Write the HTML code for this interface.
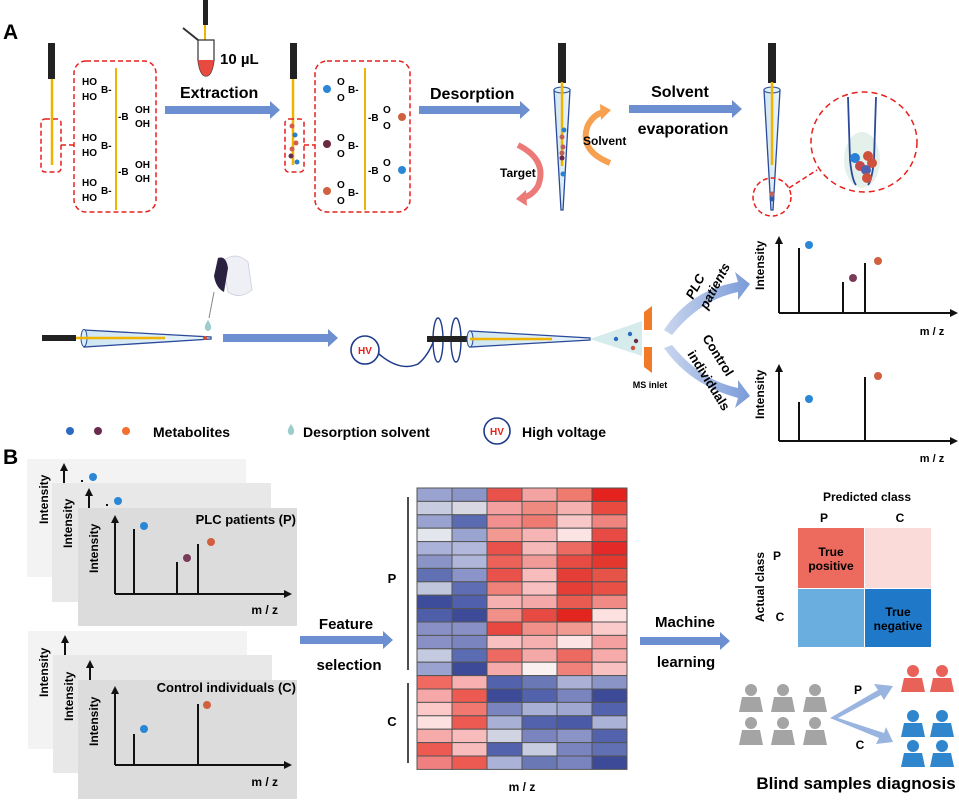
<!DOCTYPE html>
<html><head><meta charset="utf-8"><style>
html,body{margin:0;padding:0;background:#fff}
svg{display:block}
text{font-family:"Liberation Sans",Arial,sans-serif}
.b{font-weight:bold}
</style></head><body>
<svg width="959" height="800" viewBox="0 0 959 800" xmlns="http://www.w3.org/2000/svg">
<defs>
<radialGradient id="glow"><stop offset="0" stop-color="#dff0f5"/><stop offset="1" stop-color="#fff" stop-opacity="0"/></radialGradient>
<linearGradient id="tube" x1="0" x2="1"><stop offset="0" stop-color="#cfe6f2"/><stop offset="1" stop-color="#eaf5fa"/></linearGradient>
<linearGradient id="cv" x1="0" x2="1"><stop offset="0" stop-color="#c9d6ee"/><stop offset="1" stop-color="#7b9bd8"/></linearGradient>
</defs>

<!-- ===== A ===== -->
<text x="3" y="39" class="b" font-size="21">A</text>
<!-- probe 1 -->
<rect x="48" y="43" width="7" height="36" fill="#222"/>
<line x1="52" y1="79" x2="52" y2="165" stroke="#f0b400" stroke-width="2.5"/>
<rect x="41" y="119" width="20" height="53" rx="4" fill="none" stroke="#e8201c" stroke-width="1.5" stroke-dasharray="5,3"/>
<line x1="61" y1="145" x2="74" y2="145" stroke="#e8201c" stroke-width="1.5" stroke-dasharray="5,3"/>
<rect x="74" y="61" width="82" height="151" rx="12" fill="none" stroke="#e8201c" stroke-width="1.5" stroke-dasharray="5,3"/>
<line x1="116" y1="68" x2="116" y2="210" stroke="#f0b400" stroke-width="2"/>
<g font-size="10" class="b">
<text x="82" y="85">HO</text><text x="101" y="93">B-</text><text x="82" y="100">HO</text>
<text x="82" y="141">HO</text><text x="101" y="149">B-</text><text x="82" y="156">HO</text>
<text x="82" y="186">HO</text><text x="101" y="194">B-</text><text x="82" y="201">HO</text>
<text x="118" y="120">-B</text><text x="135" y="113">OH</text><text x="135" y="127">OH</text>
<text x="118" y="175">-B</text><text x="135" y="168">OH</text><text x="135" y="182">OH</text>
</g>
<!-- tube -->
<rect x="203" y="0" width="5" height="25" fill="#222"/>
<line x1="205" y1="25" x2="205" y2="68" stroke="#f0b400" stroke-width="2"/>
<path d="M198 40 h16 v20 q-2 16 -8 16 q-6 0 -8 -16 z" fill="#fff" stroke="#333" stroke-width="1.2"/>
<path d="M198 60 h16 q-2 16 -8 16 q-6 0 -8 -16z" fill="#e84a40"/>
<line x1="183" y1="28" x2="198" y2="40" stroke="#333" stroke-width="2"/>
<text x="220" y="64" class="b" font-size="15">10 µL</text>
<text x="180" y="98" class="b" font-size="16">Extraction</text>
<polygon points="165,106 270,106 270,101 280,110 270,119 270,114 165,114" fill="#6b8fd0"/>
<!-- probe 2 -->
<rect x="290" y="43" width="7" height="36" fill="#222"/>
<line x1="293" y1="79" x2="293" y2="165" stroke="#f0b400" stroke-width="2.5"/>
<circle cx="292" cy="126" r="2.5" fill="#d0604a"/><circle cx="295" cy="135" r="2.5" fill="#2a7fcf"/><circle cx="296" cy="143" r="2.5" fill="#d0604a"/><circle cx="292" cy="149" r="2.5" fill="#d0604a"/><circle cx="291" cy="156" r="2.5" fill="#6a2a50"/><circle cx="297" cy="162" r="2.5" fill="#2a7fcf"/>
<rect x="285" y="119" width="19" height="53" rx="4" fill="none" stroke="#e8201c" stroke-width="1.5" stroke-dasharray="5,3"/>
<line x1="304" y1="145" x2="315" y2="145" stroke="#e8201c" stroke-width="1.5" stroke-dasharray="5,3"/>
<rect x="315" y="61" width="95" height="151" rx="12" fill="none" stroke="#e8201c" stroke-width="1.5" stroke-dasharray="5,3"/>
<line x1="365" y1="68" x2="365" y2="210" stroke="#f0b400" stroke-width="2"/>
<g font-size="10" class="b">
<text x="337" y="85">O</text><text x="348" y="93">B-</text><text x="337" y="101">O</text>
<text x="337" y="141">O</text><text x="348" y="149">B-</text><text x="337" y="157">O</text>
<text x="337" y="188">O</text><text x="348" y="196">B-</text><text x="337" y="204">O</text>
<text x="368" y="121">-B</text><text x="383" y="113">O</text><text x="383" y="129">O</text>
<text x="368" y="174">-B</text><text x="383" y="166">O</text><text x="383" y="182">O</text>
</g>
<circle cx="327" cy="89" r="4" fill="#2a86d6"/><circle cx="327" cy="144" r="4" fill="#6a2a44"/><circle cx="327" cy="191" r="4" fill="#d0603e"/>
<circle cx="402" cy="117" r="4" fill="#d0603e"/><circle cx="402" cy="170" r="4" fill="#2a86d6"/>
<text x="430" y="99" class="b" font-size="16">Desorption</text>
<polygon points="419,106 520,106 520,101 530,110 520,119 520,114 419,114" fill="#6b8fd0"/>
<!-- tip 1 -->
<rect x="558" y="43" width="8" height="40" fill="#222"/>
<path d="M554 90 L570 90 L563 210 L561 210 Z" fill="url(#tube)" stroke="#2a4a9a" stroke-width="1.3"/>
<ellipse cx="562" cy="90" rx="8" ry="3" fill="#d8eef8" stroke="#2a4a9a" stroke-width="1"/>
<line x1="562" y1="82" x2="562" y2="166" stroke="#f0b400" stroke-width="2.5"/>
<circle cx="564" cy="130" r="2.5" fill="#2a7fcf"/><circle cx="562" cy="137" r="2.5" fill="#c0605a"/><circle cx="563" cy="147" r="2.5" fill="#c0605a"/><circle cx="562" cy="153" r="2.5" fill="#c0605a"/><circle cx="562" cy="158" r="2.5" fill="#6a2a50"/><circle cx="563" cy="174" r="2.5" fill="#2a7fcf"/>
<path d="M610 163 Q578 150 588 125 Q594 114 604 112" fill="none" stroke="#f6a050" stroke-width="6"/>
<polygon points="600,104 611,110 601,120" fill="#f6a050"/>
<text x="583" y="145" class="b" font-size="12">Solvent</text>
<path d="M518 145 Q548 160 538 186 Q532 196 522 198" fill="none" stroke="#ec7a78" stroke-width="6"/>
<polygon points="526,190 516,199 527,206" fill="#ec7a78"/>
<text x="500" y="177" class="b" font-size="12">Target</text>
<text x="680" y="97" class="b" font-size="16" text-anchor="middle">Solvent</text>
<text x="683" y="134" class="b" font-size="16" text-anchor="middle">evaporation</text>
<polygon points="629,105 732,105 732,100 742,109 732,118 732,113 629,113" fill="#6b8fd0"/>
<!-- tip 2 -->
<rect x="768" y="43" width="8" height="40" fill="#222"/>
<path d="M764 90 L780 90 L773 210 L771 210 Z" fill="url(#tube)" stroke="#2a4a9a" stroke-width="1.3"/>
<ellipse cx="772" cy="90" rx="8" ry="3" fill="#d8eef8" stroke="#2a4a9a" stroke-width="1"/>
<line x1="772" y1="82" x2="772" y2="165" stroke="#f0b400" stroke-width="2.5"/>
<circle cx="772" cy="194" r="2.5" fill="#c0605a"/><circle cx="772" cy="199" r="2.5" fill="#2a5aaa"/>
<circle cx="772" cy="197" r="19" fill="none" stroke="#e8201c" stroke-width="1.5" stroke-dasharray="5,3"/>
<line x1="789" y1="188" x2="817" y2="170" stroke="#e8201c" stroke-width="1.5" stroke-dasharray="5,3"/>
<ellipse cx="864" cy="142" rx="53" ry="50" fill="#fff" stroke="#e8201c" stroke-width="1.5" stroke-dasharray="6,4"/>
<ellipse cx="862" cy="160" rx="18" ry="28" fill="#e4f1ea"/>
<path d="M848 97 L850 160 Q852 180 856 185 M876 97 L874 160 Q872 180 868 185" fill="none" stroke="#2a4a9a" stroke-width="1.8"/>
<circle cx="855" cy="158" r="5" fill="#2a80d6"/><circle cx="868" cy="156" r="5" fill="#d0503e"/><circle cx="872" cy="163" r="5" fill="#d0503e"/><circle cx="860" cy="166" r="5" fill="#c04a50"/><circle cx="866" cy="170" r="5" fill="#5060b0"/><circle cx="867" cy="178" r="5" fill="#d0503e"/>

<!-- middle row -->
<rect x="42" y="335" width="34" height="6" fill="#222"/>
<path d="M84 330 L211 337 L211 339 L84 347 Z" fill="url(#tube)" stroke="#2a4a9a" stroke-width="1.3"/>
<ellipse cx="84" cy="338" rx="3" ry="8.5" fill="#d8eef8" stroke="#2a4a9a" stroke-width="1"/>
<line x1="76" y1="338" x2="165" y2="338" stroke="#f0b400" stroke-width="2.5"/>
<circle cx="205" cy="338" r="2" fill="#d0503e"/>
<path d="M208 320 q-4 6 -3 8 a3 3 0 0 0 6 0 q1 -2 -3 -8z" fill="#9ccccc"/>
<path d="M222 262 Q235 250 248 262 L252 290 Q240 300 228 292 Z" fill="#eef0f6" stroke="#ccd" stroke-width="0.8"/>
<path d="M218 258 Q226 255 228 268 L224 292 Q216 288 214 276 Z" fill="#2a2040"/>
<line x1="214" y1="292" x2="209" y2="318" stroke="#888" stroke-width="1"/>
<polygon points="223,334 328,334 328,329 338,338 328,347 328,342 223,342" fill="#6b8fd0"/>
<circle cx="365" cy="350" r="14" fill="#fff" stroke="#1e3a8a" stroke-width="1.6"/>
<text x="365" y="354" font-size="10" class="b" fill="#e8201c" text-anchor="middle">HV</text>
<path d="M379 354 Q400 372 418 364 Q428 356 434 340" fill="none" stroke="#1e3a8a" stroke-width="1.5"/>
<ellipse cx="438" cy="340" rx="5" ry="22" fill="none" stroke="#1e3a8a" stroke-width="1.4"/>
<ellipse cx="456" cy="340" rx="5" ry="22" fill="none" stroke="#1e3a8a" stroke-width="1.4"/>
<rect x="427" y="336" width="43" height="6" fill="#222"/>
<path d="M470 331 L590 338 L590 340 L470 347 Z" fill="url(#tube)" stroke="#2a4a9a" stroke-width="1.3"/>
<ellipse cx="470" cy="339" rx="3" ry="8" fill="#d8eef8" stroke="#2a4a9a" stroke-width="1"/>
<line x1="470" y1="339" x2="552" y2="339" stroke="#f0b400" stroke-width="2.5"/>
<polygon points="590,339 642,321 642,356" fill="#d6ecec"/>
<circle cx="616" cy="339" r="2.2" fill="#2a6ac0"/><circle cx="630" cy="334" r="2.2" fill="#2a6ac0"/><circle cx="636" cy="341" r="2.2" fill="#6a2a50"/><circle cx="633" cy="348" r="2.2" fill="#d0503e"/>
<polygon points="644,312 652,306 652,330 644,330" fill="#f07a28"/>
<polygon points="644,347 652,347 652,373 644,367" fill="#f07a28"/>
<text x="650" y="388" font-size="9" class="b" text-anchor="middle">MS inlet</text>
<path d="M664 330 Q690 290 738 282 L735 272 L750 284 L738 300 L738 292 Q700 300 672 335 Z" fill="url(#cv)"/>
<path d="M664 348 Q690 385 738 398 L735 408 L750 396 L738 380 L738 388 Q700 380 672 345 Z" fill="url(#cv)"/>
<text transform="translate(693,300) rotate(-62)" font-size="13" class="b" font-style="italic">PLC</text>
<text transform="translate(707,310) rotate(-62)" font-size="13" class="b" font-style="italic">patients</text>
<text transform="translate(702,338) rotate(58)" font-size="13" class="b">Control</text>
<text transform="translate(687,354) rotate(58)" font-size="13" class="b">individuals</text>
<!-- graph1 -->
<g stroke="#111" stroke-width="2" fill="none">
<path d="M779 313 V242 M953 313 H779"/>
<path d="M799 313 V248 M843 313 V282 M865 313 V263"/>
<path d="M779 441 V370 M953 441 H779"/>
<path d="M799 441 V402 M865 441 V377"/>
</g>
<polygon points="775,244 779,236 783,244" fill="#111"/><polygon points="950,309 958,313 950,317" fill="#111"/>
<polygon points="775,372 779,364 783,372" fill="#111"/><polygon points="950,437 958,441 950,445" fill="#111"/>
<circle cx="809" cy="245" r="4" fill="#2a86d6"/><circle cx="853" cy="278" r="4" fill="#7a3a5a"/><circle cx="878" cy="261" r="4" fill="#d0603e"/>
<circle cx="809" cy="399" r="4" fill="#2a86d6"/><circle cx="878" cy="376" r="4" fill="#d0603e"/>
<text transform="translate(764,290) rotate(-90)" font-size="12" class="b">Intensity</text>
<text transform="translate(764,419) rotate(-90)" font-size="12" class="b">Intensity</text>
<text x="932" y="335" font-size="11" class="b" text-anchor="middle">m / z</text>
<text x="932" y="462" font-size="11" class="b" text-anchor="middle">m / z</text>
<!-- legend -->
<circle cx="70" cy="431" r="4" fill="#2a6ac0"/><circle cx="98" cy="431" r="4" fill="#6a2a50"/><circle cx="126" cy="431" r="4" fill="#f07030"/>
<text x="153" y="437" font-size="14" class="b">Metabolites</text>
<path d="M291 424 q-4 6 -3 8 a3 3 0 0 0 6 0 q1 -2 -3 -8z" fill="#9ccccc"/>
<text x="303" y="437" font-size="14" class="b">Desorption solvent</text>
<circle cx="497" cy="431" r="13" fill="#fff" stroke="#1e3a8a" stroke-width="1.6"/>
<text x="497" y="435" font-size="10" class="b" fill="#e8201c" text-anchor="middle">HV</text>
<text x="522" y="437" font-size="14" class="b">High voltage</text>

<!-- ===== B ===== -->
<text x="3" y="464" class="b" font-size="21">B</text>
<rect x="27" y="459" width="219" height="118" fill="#f3f3f3"/>
<rect x="52" y="483" width="219" height="119" fill="#e8e8e8"/>
<rect x="78" y="508" width="219" height="118" fill="#dcdcdc"/>
<rect x="28" y="631" width="219" height="118" fill="#f3f3f3"/>
<rect x="53" y="655" width="219" height="118" fill="#e8e8e8"/>
<rect x="78" y="680" width="219" height="119" fill="#dcdcdc"/>
<g font-size="12" class="b">
<text transform="translate(48,524) rotate(-90)">Intensity</text>
<text transform="translate(72,548) rotate(-90)">Intensity</text>
<text transform="translate(98,573) rotate(-90)">Intensity</text>
<text transform="translate(48,697) rotate(-90)">Intensity</text>
<text transform="translate(73,721) rotate(-90)">Intensity</text>
<text transform="translate(98,746) rotate(-90)">Intensity</text>
<text x="296" y="524" text-anchor="end" font-size="13">PLC patients (P)</text>
<text x="296" y="692" text-anchor="end" font-size="13">Control individuals (C)</text>
<text x="278" y="614" text-anchor="end">m / z</text>
<text x="278" y="786" text-anchor="end">m / z</text>
</g>
<g stroke="#111" stroke-width="2" fill="none">
<path d="M64 483 V469 M89 508 V494 M82 482 v-2 M107 506 v-2"/>
<path d="M65 655 V641 M90 680 V665"/>
<path d="M115 594 V521 M287 594 H115 M134 594 V529 M177 594 V562 M198 594 V544"/>
<path d="M115 765 V692 M287 765 H115 M134 765 V734 M198 765 V704"/>
</g>
<g fill="#111">
<polygon points="60,471 64,463 68,471"/><polygon points="85,496 89,488 93,496"/>
<polygon points="61,643 65,635 69,643"/><polygon points="86,668 90,660 94,668"/>
<polygon points="111,523 115,515 119,523"/><polygon points="284,590 292,594 284,598"/>
<polygon points="111,694 115,686 119,694"/><polygon points="284,761 292,765 284,769"/>
</g>
<circle cx="93" cy="477" r="4" fill="#2a86d6"/><circle cx="118" cy="501" r="4" fill="#2a86d6"/>
<circle cx="144" cy="526" r="4" fill="#2a86d6"/><circle cx="187" cy="558" r="4" fill="#7a3a5a"/><circle cx="211" cy="542" r="4" fill="#d0603e"/>
<circle cx="144" cy="729" r="4" fill="#2a86d6"/><circle cx="207" cy="705" r="4" fill="#d0603e"/>
<text x="346" y="629" font-size="15" class="b" text-anchor="middle">Feature</text>
<text x="349" y="670" font-size="15" class="b" text-anchor="middle">selection</text>
<polygon points="300,636 383,636 383,631 393,640 383,649 383,644 300,644" fill="#6b8fd0"/>
<line x1="408" y1="497" x2="408" y2="670" stroke="#111" stroke-width="1.5"/>
<line x1="408" y1="683" x2="408" y2="763" stroke="#111" stroke-width="1.5"/>
<text x="392" y="583" font-size="13" class="b" text-anchor="middle">P</text>
<text x="392" y="726" font-size="13" class="b" text-anchor="middle">C</text>
<!-- heatmap -->
<g stroke="#555" stroke-width="1">
<g transform="translate(0,488)"><rect x="417" width="35" height="13.4" fill="#9aa3d0"/><rect x="452" width="35" height="13.4" fill="#8b95c8"/><rect x="487" width="35" height="13.4" fill="#e8524a"/><rect x="522" width="35" height="13.4" fill="#f4a3a3"/><rect x="557" width="35" height="13.4" fill="#ef7a6e"/><rect x="592" width="35" height="13.4" fill="#e4231f"/></g>
<g transform="translate(0,501.4)"><rect x="417" width="35" height="13.4" fill="#c8cce0"/><rect x="452" width="35" height="13.4" fill="#d8d8e2"/><rect x="487" width="35" height="13.4" fill="#f4a0a0"/><rect x="522" width="35" height="13.4" fill="#ef8a80"/><rect x="557" width="35" height="13.4" fill="#f5b0b0"/><rect x="592" width="35" height="13.4" fill="#e84a40"/></g>
<g transform="translate(0,514.8)"><rect x="417" width="35" height="13.4" fill="#9aa2d0"/><rect x="452" width="35" height="13.4" fill="#5b6bb2"/><rect x="487" width="35" height="13.4" fill="#f29090"/><rect x="522" width="35" height="13.4" fill="#ef7a72"/><rect x="557" width="35" height="13.4" fill="#f8c8c8"/><rect x="592" width="35" height="13.4" fill="#ef857e"/></g>
<g transform="translate(0,528.2)"><rect x="417" width="35" height="13.4" fill="#e4e6ee"/><rect x="452" width="35" height="13.4" fill="#9aa4d0"/><rect x="487" width="35" height="13.4" fill="#f29a92"/><rect x="522" width="35" height="13.4" fill="#f6b4b4"/><rect x="557" width="35" height="13.4" fill="#fde4e4"/><rect x="592" width="35" height="13.4" fill="#e84a44"/></g>
<g transform="translate(0,541.6)"><rect x="417" width="35" height="13.4" fill="#aab2da"/><rect x="452" width="35" height="13.4" fill="#b2b8dc"/><rect x="487" width="35" height="13.4" fill="#e8524a"/><rect x="522" width="35" height="13.4" fill="#f6b8b8"/><rect x="557" width="35" height="13.4" fill="#ec6a62"/><rect x="592" width="35" height="13.4" fill="#e32a28"/></g>
<g transform="translate(0,555)"><rect x="417" width="35" height="13.4" fill="#8a94c6"/><rect x="452" width="35" height="13.4" fill="#b0b6da"/><rect x="487" width="35" height="13.4" fill="#ec6258"/><rect x="522" width="35" height="13.4" fill="#f29a98"/><rect x="557" width="35" height="13.4" fill="#e84a44"/><rect x="592" width="35" height="13.4" fill="#e4382e"/></g>
<g transform="translate(0,568.4)"><rect x="417" width="35" height="13.4" fill="#6070b2"/><rect x="452" width="35" height="13.4" fill="#8a94c8"/><rect x="487" width="35" height="13.4" fill="#e8524a"/><rect x="522" width="35" height="13.4" fill="#f8bcbc"/><rect x="557" width="35" height="13.4" fill="#e53e36"/><rect x="592" width="35" height="13.4" fill="#e65448"/></g>
<g transform="translate(0,581.8)"><rect x="417" width="35" height="13.4" fill="#c0c6dc"/><rect x="452" width="35" height="13.4" fill="#5f6eb4"/><rect x="487" width="35" height="13.4" fill="#ef807a"/><rect x="522" width="35" height="13.4" fill="#f8c0c0"/><rect x="557" width="35" height="13.4" fill="#e53e36"/><rect x="592" width="35" height="13.4" fill="#e85046"/></g>
<g transform="translate(0,595.2)"><rect x="417" width="35" height="13.4" fill="#3e4c9c"/><rect x="452" width="35" height="13.4" fill="#5060ac"/><rect x="487" width="35" height="13.4" fill="#f6b0b0"/><rect x="522" width="35" height="13.4" fill="#f4a8a8"/><rect x="557" width="35" height="13.4" fill="#e95a50"/><rect x="592" width="35" height="13.4" fill="#ef8a84"/></g>
<g transform="translate(0,608.6)"><rect x="417" width="35" height="13.4" fill="#4e5ea8"/><rect x="452" width="35" height="13.4" fill="#3c4a98"/><rect x="487" width="35" height="13.4" fill="#f09088"/><rect x="522" width="35" height="13.4" fill="#e64a42"/><rect x="557" width="35" height="13.4" fill="#e2251f"/><rect x="592" width="35" height="13.4" fill="#fde0e0"/></g>
<g transform="translate(0,622)"><rect x="417" width="35" height="13.4" fill="#8890c6"/><rect x="452" width="35" height="13.4" fill="#8890c6"/><rect x="487" width="35" height="13.4" fill="#e84840"/><rect x="522" width="35" height="13.4" fill="#f09088"/><rect x="557" width="35" height="13.4" fill="#f09a92"/><rect x="592" width="35" height="13.4" fill="#fbcaca"/></g>
<g transform="translate(0,635.4)"><rect x="417" width="35" height="13.4" fill="#8890c6"/><rect x="452" width="35" height="13.4" fill="#7a84be"/><rect x="487" width="35" height="13.4" fill="#f8c0c0"/><rect x="522" width="35" height="13.4" fill="#f6b0b0"/><rect x="557" width="35" height="13.4" fill="#fde4e4"/><rect x="592" width="35" height="13.4" fill="#f4a0a0"/></g>
<g transform="translate(0,648.8)"><rect x="417" width="35" height="13.4" fill="#c4cae0"/><rect x="452" width="35" height="13.4" fill="#5c6cb2"/><rect x="487" width="35" height="13.4" fill="#ec6a62"/><rect x="522" width="35" height="13.4" fill="#f4a8a8"/><rect x="557" width="35" height="13.4" fill="#ec6a62"/><rect x="592" width="35" height="13.4" fill="#f6aaaa"/></g>
<g transform="translate(0,662.2)"><rect x="417" width="35" height="13.4" fill="#9aa2d0"/><rect x="452" width="35" height="13.4" fill="#3c4a98"/><rect x="487" width="35" height="13.4" fill="#f6aaaa"/><rect x="522" width="35" height="13.4" fill="#faf0f0"/><rect x="557" width="35" height="13.4" fill="#ef807a"/><rect x="592" width="35" height="13.4" fill="#f8c0c0"/></g>
<g transform="translate(0,675.6)"><rect x="417" width="35" height="13.4" fill="#f06a62"/><rect x="452" width="35" height="13.4" fill="#f8b0b0"/><rect x="487" width="35" height="13.4" fill="#5262ac"/><rect x="522" width="35" height="13.4" fill="#6a78b6"/><rect x="557" width="35" height="13.4" fill="#aab0d6"/><rect x="592" width="35" height="13.4" fill="#8a94c6"/></g>
<g transform="translate(0,689)"><rect x="417" width="35" height="13.4" fill="#f6a8a8"/><rect x="452" width="35" height="13.4" fill="#ec5a52"/><rect x="487" width="35" height="13.4" fill="#3c4a98"/><rect x="522" width="35" height="13.4" fill="#5262ac"/><rect x="557" width="35" height="13.4" fill="#7a84be"/><rect x="592" width="35" height="13.4" fill="#3c4a98"/></g>
<g transform="translate(0,702.4)"><rect x="417" width="35" height="13.4" fill="#fcc8c8"/><rect x="452" width="35" height="13.4" fill="#f07870"/><rect x="487" width="35" height="13.4" fill="#7a84be"/><rect x="522" width="35" height="13.4" fill="#a8b0d6"/><rect x="557" width="35" height="13.4" fill="#a0a8d2"/><rect x="592" width="35" height="13.4" fill="#5262ac"/></g>
<g transform="translate(0,715.8)"><rect x="417" width="35" height="13.4" fill="#fde0e0"/><rect x="452" width="35" height="13.4" fill="#ec5a52"/><rect x="487" width="35" height="13.4" fill="#a8b0d6"/><rect x="522" width="35" height="13.4" fill="#5262ac"/><rect x="557" width="35" height="13.4" fill="#4a5aa6"/><rect x="592" width="35" height="13.4" fill="#aab2d8"/></g>
<g transform="translate(0,729.2)"><rect x="417" width="35" height="13.4" fill="#f6aaaa"/><rect x="452" width="35" height="13.4" fill="#f8bcbc"/><rect x="487" width="35" height="13.4" fill="#d0d4e2"/><rect x="522" width="35" height="13.4" fill="#7a84be"/><rect x="557" width="35" height="13.4" fill="#8a94c6"/><rect x="592" width="35" height="13.4" fill="#5262ac"/></g>
<g transform="translate(0,742.6)"><rect x="417" width="35" height="13.4" fill="#ec5a52"/><rect x="452" width="35" height="13.4" fill="#f8bcbc"/><rect x="487" width="35" height="13.4" fill="#5262ac"/><rect x="522" width="35" height="13.4" fill="#c8cce0"/><rect x="557" width="35" height="13.4" fill="#7a84be"/><rect x="592" width="35" height="13.4" fill="#6070b2"/></g>
<g transform="translate(0,756)"><rect x="417" width="35" height="13.4" fill="#f08080"/><rect x="452" width="35" height="13.4" fill="#ec5a52"/><rect x="487" width="35" height="13.4" fill="#aab2d8"/><rect x="522" width="35" height="13.4" fill="#6a78b6"/><rect x="557" width="35" height="13.4" fill="#7a84be"/><rect x="592" width="35" height="13.4" fill="#3c4a98"/></g>
</g>
<text x="522" y="791" font-size="12" class="b" text-anchor="middle">m / z</text>
<!-- ML -->
<text x="685" y="627" font-size="15" class="b" text-anchor="middle">Machine</text>
<text x="686" y="667" font-size="15" class="b" text-anchor="middle">learning</text>
<polygon points="640,637 720,637 720,632 730,641 720,650 720,645 640,645" fill="#6b8fd0"/>
<text x="867" y="501" font-size="12" class="b" text-anchor="middle">Predicted class</text>
<text x="824" y="522" font-size="12" class="b" text-anchor="middle">P</text>
<text x="900" y="522" font-size="12" class="b" text-anchor="middle">C</text>
<text transform="translate(764,622) rotate(-90)" font-size="12" class="b">Actual class</text>
<text x="777" y="560" font-size="12" class="b" text-anchor="middle">P</text>
<text x="780" y="621" font-size="12" class="b" text-anchor="middle">C</text>
<rect x="798" y="528" width="66" height="60" fill="#ec6a5e"/>
<rect x="865" y="528" width="66" height="60" fill="#fbdada"/>
<rect x="798" y="589" width="66" height="58" fill="#6aaee0"/>
<rect x="865" y="589" width="66" height="58" fill="#1f78c8"/>
<text x="831" y="556" font-size="12" class="b" text-anchor="middle">True</text>
<text x="831" y="570" font-size="12" class="b" text-anchor="middle">positive</text>
<text x="898" y="616" font-size="12" class="b" text-anchor="middle">True</text>
<text x="898" y="630" font-size="12" class="b" text-anchor="middle">negative</text>
<!-- people -->
<g fill="#a4a4a4">
<circle cx="751" cy="690" r="6"/><path d="M742 697 h18 l3 15 h-24z"/>
<circle cx="783" cy="690" r="6"/><path d="M774 697 h18 l3 15 h-24z"/>
<circle cx="815" cy="690" r="6"/><path d="M806 697 h18 l3 15 h-24z"/>
<circle cx="751" cy="723" r="6"/><path d="M742 730 h18 l3 15 h-24z"/>
<circle cx="783" cy="723" r="6"/><path d="M774 730 h18 l3 15 h-24z"/>
<circle cx="815" cy="723" r="6"/><path d="M806 730 h18 l3 15 h-24z"/>
</g>
<g fill="#e8625a">
<circle cx="913" cy="671" r="6"/><path d="M904 678 h18 l3 14 h-24z"/>
<circle cx="942" cy="671" r="6"/><path d="M933 678 h18 l3 14 h-24z"/>
</g>
<g fill="#2f86cc">
<circle cx="913" cy="716" r="6"/><path d="M904 723 h18 l3 14 h-24z"/>
<circle cx="942" cy="716" r="6"/><path d="M933 723 h18 l3 14 h-24z"/>
<circle cx="913" cy="746" r="6"/><path d="M904 753 h18 l3 14 h-24z"/>
<circle cx="942" cy="746" r="6"/><path d="M933 753 h18 l3 14 h-24z"/>
</g>
<path d="M830 718 L878 690 L874 684 L893 686 L884 700 L881 695 L838 718 L884 733 L886 727 L893 742 L876 744 L879 738 Z" fill="#9ab4e0"/>
<text x="858" y="694" font-size="12" class="b" text-anchor="middle">P</text>
<text x="860" y="749" font-size="12" class="b" text-anchor="middle">C</text>
<text x="856" y="789" font-size="17" class="b" text-anchor="middle">Blind samples diagnosis</text>
</svg>
</body></html>
